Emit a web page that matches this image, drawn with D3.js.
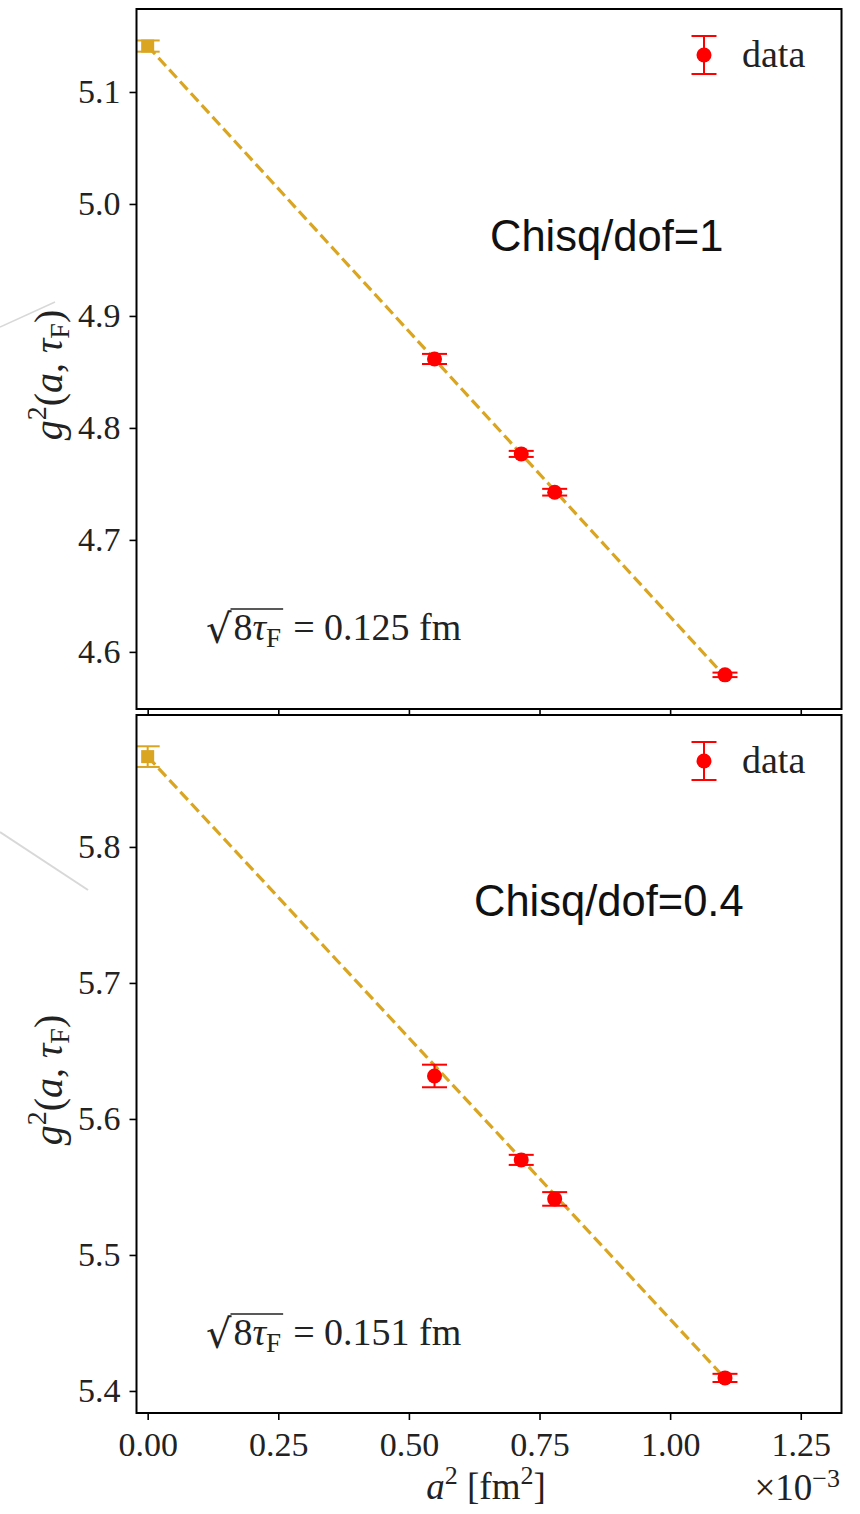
<!DOCTYPE html>
<html>
<head>
<meta charset="utf-8">
<script src="https://cdn.jsdelivr.net/npm/d3@7"></script>
<style>
  body { margin: 0; background: #fff; }
  text { font-family: "Liberation Serif", "DejaVu Serif", serif; }
</style>
</head>
<body>
<div id="chart"></div>
<script>
// a^2 in units of 1e-3 fm^2
const a2 = [0.549, 0.715, 0.779, 1.105];
const xTicks = [0, 0.25, 0.5, 0.75, 1.0, 1.25];

// top panel: sqrt(8 tau_F) = 0.125 fm
const g2Top = [4.8616, 4.7768, 4.7426, 4.5795];
const errTop = [0.0045, 0.0027, 0.003, 0.002];
const contTop = [5.141, 0.005];       // continuum value, error
const slopeTop = -0.5095;
const yTicksTop = [4.6, 4.7, 4.8, 4.9, 5.0, 5.1];

// bottom panel: sqrt(8 tau_F) = 0.151 fm
const g2Bottom = [5.6316, 5.5699, 5.5412, 5.4096];
const errBottom = [0.0083, 0.0037, 0.005, 0.003];
const contBottom = [5.8664, 0.0076];
const slopeBottom = -0.4136;
const yTicksBottom = [5.4, 5.5, 5.6, 5.7, 5.8];

const chisq = ["Chisq/dof=1", "Chisq/dof=0.4"];
const flowScale = ["0.125", "0.151"];

const gold = "#DAA520";
const red = "#ff0000";

const svg = d3.select("#chart")
    .append("svg")
    .attr("width", 860)
    .attr("height", 1514);

// faint slide artifacts on the left edge
svg.append("line").attr("x1", 0).attr("y1", 327).attr("x2", 55).attr("y2", 302)
    .attr("stroke", "#d8d8d8").attr("stroke-width", 1.5);
svg.append("line").attr("x1", 0).attr("y1", 832).attr("x2", 88).attr("y2", 890)
    .attr("stroke", "#d8d8d8").attr("stroke-width", 2);

const x = d3.scaleLinear().domain([-0.0214, 1.328]).range([136.5, 841.5]);

const panels = [
    { top: 9, bottom: 709, dom: [4.549, 5.1741], ticks: yTicksTop, ys: g2Top, errs: errTop,
      cont: contTop, slope: slopeTop, fmt: d3.format(".1f") },
    { top: 715, bottom: 1413, dom: [5.3838, 5.897], ticks: yTicksBottom, ys: g2Bottom, errs: errBottom,
      cont: contBottom, slope: slopeBottom, fmt: d3.format(".1f") }
];

panels.forEach((p, k) => {
    const g = svg.append("g");
    const y = d3.scaleLinear().domain(p.dom).range([p.bottom, p.top]);

    g.append("rect")
        .attr("x", 136.5).attr("y", p.top)
        .attr("width", 705).attr("height", p.bottom - p.top)
        .attr("fill", "#fff");

    // y axis
    const yAxis = g.append("g")
        .attr("transform", "translate(136.5,0)")
        .call(d3.axisLeft(y).tickValues(p.ticks).tickFormat(p.fmt).tickSize(7).tickPadding(9));
    yAxis.select(".domain").remove();
    yAxis.selectAll(".tick line").attr("stroke", "#000").attr("stroke-width", 1.6);
    yAxis.selectAll(".tick text")
        .attr("font-size", 34).attr("fill", "#222")
        .style("font-family", "'Liberation Serif', serif");

    // x axis
    const xAxis = g.append("g")
        .attr("transform", "translate(0," + p.bottom + ")")
        .call(d3.axisBottom(x).tickValues(xTicks).tickFormat(k === 1 ? d3.format(".2f") : "")
            .tickSize(k === 1 ? 7 : 5).tickPadding(12));
    xAxis.select(".domain").remove();
    xAxis.selectAll(".tick line").attr("stroke", "#000").attr("stroke-width", 1.6);
    xAxis.selectAll(".tick text")
        .attr("font-size", 34).attr("fill", "#222")
        .style("font-family", "'Liberation Serif', serif");

    // fit line
    const xEnd = a2[a2.length - 1];
    g.append("line")
        .attr("x1", x(0)).attr("y1", y(p.cont[0]))
        .attr("x2", x(xEnd)).attr("y2", y(p.cont[0] + p.slope * xEnd))
        .attr("stroke", gold).attr("stroke-width", 3.2)
        .attr("stroke-dasharray", "11,5");

    // continuum point
    const cx = x(0), cy = y(p.cont[0]);
    const ce = y(p.cont[0] - p.cont[1]) - cy;
    g.append("line").attr("x1", cx).attr("x2", cx).attr("y1", cy - ce).attr("y2", cy + ce)
        .attr("stroke", gold).attr("stroke-width", 2);
    [cy - ce, cy + ce].forEach(v => g.append("line")
        .attr("x1", cx - 11).attr("x2", cx + 12).attr("y1", v).attr("y2", v)
        .attr("stroke", gold).attr("stroke-width", 2));
    g.append("rect").attr("x", cx - 6.5).attr("y", cy - 6.5)
        .attr("width", 13).attr("height", 13).attr("fill", gold);

    // data points
    const pts = g.selectAll("g.pt")
        .data(a2.map((d, i) => ({ x: d, y: p.ys[i], e: p.errs[i] })))
        .enter().append("g").attr("class", "pt");
    pts.append("line")
        .attr("x1", d => x(d.x)).attr("x2", d => x(d.x))
        .attr("y1", d => y(d.y + d.e)).attr("y2", d => y(d.y - d.e))
        .attr("stroke", red).attr("stroke-width", 2);
    pts.append("line")
        .attr("x1", d => x(d.x) - 12.5).attr("x2", d => x(d.x) + 12.5)
        .attr("y1", d => y(d.y + d.e)).attr("y2", d => y(d.y + d.e))
        .attr("stroke", red).attr("stroke-width", 2);
    pts.append("line")
        .attr("x1", d => x(d.x) - 12.5).attr("x2", d => x(d.x) + 12.5)
        .attr("y1", d => y(d.y - d.e)).attr("y2", d => y(d.y - d.e))
        .attr("stroke", red).attr("stroke-width", 2);
    pts.append("circle")
        .attr("cx", d => x(d.x)).attr("cy", d => y(d.y))
        .attr("r", 7.5).attr("fill", red);

    // frame
    g.append("rect")
        .attr("x", 136.5).attr("y", p.top)
        .attr("width", 705).attr("height", p.bottom - p.top)
        .attr("fill", "none").attr("stroke", "#000").attr("stroke-width", 2);

    // legend
    const lx = 704, ly = p.top + 46;
    g.append("line").attr("x1", lx).attr("x2", lx).attr("y1", ly - 19).attr("y2", ly + 19)
        .attr("stroke", red).attr("stroke-width", 2);
    [ly - 19, ly + 19].forEach(v => g.append("line")
        .attr("x1", lx - 12.5).attr("x2", lx + 12.5).attr("y1", v).attr("y2", v)
        .attr("stroke", red).attr("stroke-width", 2));
    g.append("circle").attr("cx", lx).attr("cy", ly).attr("r", 7.5).attr("fill", red);
    g.append("text").attr("x", 742).attr("y", ly + 12)
        .attr("font-size", 38).attr("fill", "#222").text("data");

    // chisq annotation
    g.append("text")
        .attr("x", k === 0 ? 490 : 474)
        .attr("y", k === 0 ? 251 : 916)
        .attr("font-size", 43.5)
        .style("font-family", "'Liberation Sans', Arial, sans-serif")
        .attr("fill", "#111")
        .text(chisq[k]);

    // sqrt(8 tau_F) = ... fm
    const by = k === 0 ? 640 : 1345;
    const rad = g.append("text").attr("x", 206).attr("y", by + 3)
        .attr("font-size", 40).style("font-family", "'DejaVu Serif', serif")
        .attr("fill", "#222").text("√");
    const rw = rad.node().getComputedTextLength();
    const inner = g.append("text").attr("x", 206 + rw + 2).attr("y", by)
        .attr("font-size", 38).attr("fill", "#222");
    inner.append("tspan").text("8");
    inner.append("tspan").attr("font-style", "italic").text("τ");
    inner.append("tspan").attr("font-size", 27).attr("dy", 7).text("F");
    const iw = inner.node().getComputedTextLength();
    g.append("line")
        .attr("x1", 206 + rw - 1).attr("x2", 206 + rw + 4 + iw)
        .attr("y1", by - 31).attr("y2", by - 31)
        .attr("stroke", "#222").attr("stroke-width", 1.6);
    g.append("text").attr("x", 206 + rw + iw + 14).attr("y", by)
        .attr("font-size", 38).attr("fill", "#222")
        .text("= " + flowScale[k] + " fm");

    // y label g^2(a, tau_F)
    const yl = g.append("text")
        .attr("transform", "translate(62," + ((p.top + p.bottom) / 2 + 16) + ") rotate(-90)")
        .attr("text-anchor", "middle")
        .attr("font-size", 40).attr("fill", "#222");
    yl.append("tspan").attr("font-style", "italic").text("g");
    yl.append("tspan").attr("font-size", 28).attr("dy", -16).text("2");
    yl.append("tspan").attr("dy", 16).text("(");
    yl.append("tspan").attr("font-style", "italic").text("a");
    yl.append("tspan").text(", ");
    yl.append("tspan").attr("font-style", "italic").text("τ");
    yl.append("tspan").attr("font-size", 28).attr("dy", 7).text("F");
    yl.append("tspan").attr("dy", -7).text(")");
});

// x label
const xl = svg.append("text")
    .attr("x", 486).attr("y", 1499)
    .attr("text-anchor", "middle")
    .attr("font-size", 37).attr("fill", "#222");
xl.append("tspan").attr("font-style", "italic").text("a");
xl.append("tspan").attr("font-size", 26).attr("dy", -15).text("2");
xl.append("tspan").attr("dy", 15).text(" [fm");
xl.append("tspan").attr("font-size", 26).attr("dy", -15).text("2");
xl.append("tspan").attr("dy", 15).text("]");

// offset text
const off = svg.append("text")
    .attr("x", 840).attr("y", 1500)
    .attr("text-anchor", "end")
    .attr("font-size", 37).attr("fill", "#222");
off.append("tspan").text("×10");
off.append("tspan").attr("font-size", 26).attr("dy", -13).text("−3");
</script>
</body>
</html>
